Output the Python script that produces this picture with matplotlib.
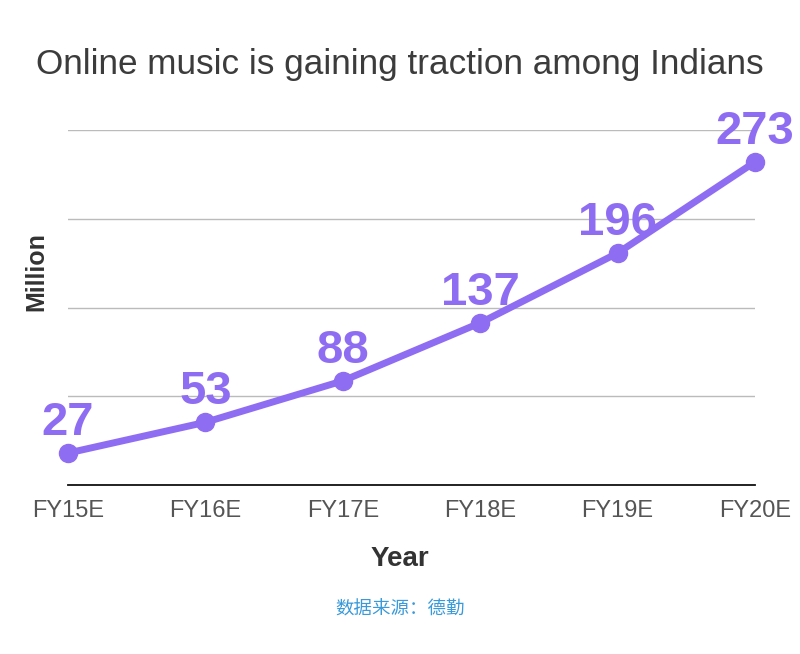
import matplotlib
matplotlib.use("Agg")
import matplotlib.pyplot as plt

years = ["FY15E", "FY16E", "FY17E", "FY18E", "FY19E", "FY20E"]
users = [27, 53, 88, 137, 196, 273]
yticks = [0, 75, 150, 225, 300]

plt.rcParams['font.family'] = ['Liberation Sans', 'Noto Sans CJK SC', 'DejaVu Sans']

purple = '#8f6df2'
fig = plt.figure(figsize=(8, 6.54), dpi=100)
ax = fig.add_axes([0.085, 0.2584, 0.85875, 0.5428])

x = list(range(len(years)))
ax.plot(x, users, color=purple, lw=5, marker='o', ms=13, clip_on=False, zorder=3)
for xi, v in zip(x, users):
    ax.annotate(str(v), (xi, v), xytext=(0, 6), textcoords='offset points',
                ha='center', va='bottom', fontsize=34, fontweight='bold',
                color=purple, zorder=4)

ax.set_xlim(0, len(years) - 1)
ax.set_ylim(0, 300)
ax.set_yticks(yticks)
ax.set_yticklabels([])
ax.tick_params(axis='y', length=0)
ax.grid(axis='y', color='#bbbbbb', lw=1)
ax.set_axisbelow(True)
ax.set_xticks(x)
ax.set_xticklabels(years, fontsize=17, color='#555555')
ax.tick_params(axis='x', length=0, pad=11)
for s in ['top', 'right', 'left']:
    ax.spines[s].set_visible(False)
ax.spines['bottom'].set_color('#111111')
ax.spines['bottom'].set_linewidth(1.3)

fig.text(0.5, 0.145, 'Year', ha='center', va='center', fontsize=20,
         fontweight='bold', color='#333333')
fig.text(0.045, 0.585, 'Million', rotation=90, fontsize=18, fontweight='bold',
         color='#333333', ha='center', va='center')
fig.text(0.5, 0.902, 'Online music is gaining traction among Indians', ha='center',
         va='center', fontsize=25.3, color='#3c3c3c')
fig.text(0.5, 0.068, '数据来源：德勤', ha='center', va='center', fontsize=13.3,
         color='#3a9ad9', family=['Noto Sans CJK SC', 'DejaVu Sans'])

fig.savefig('out.png', dpi=100, facecolor='white')
